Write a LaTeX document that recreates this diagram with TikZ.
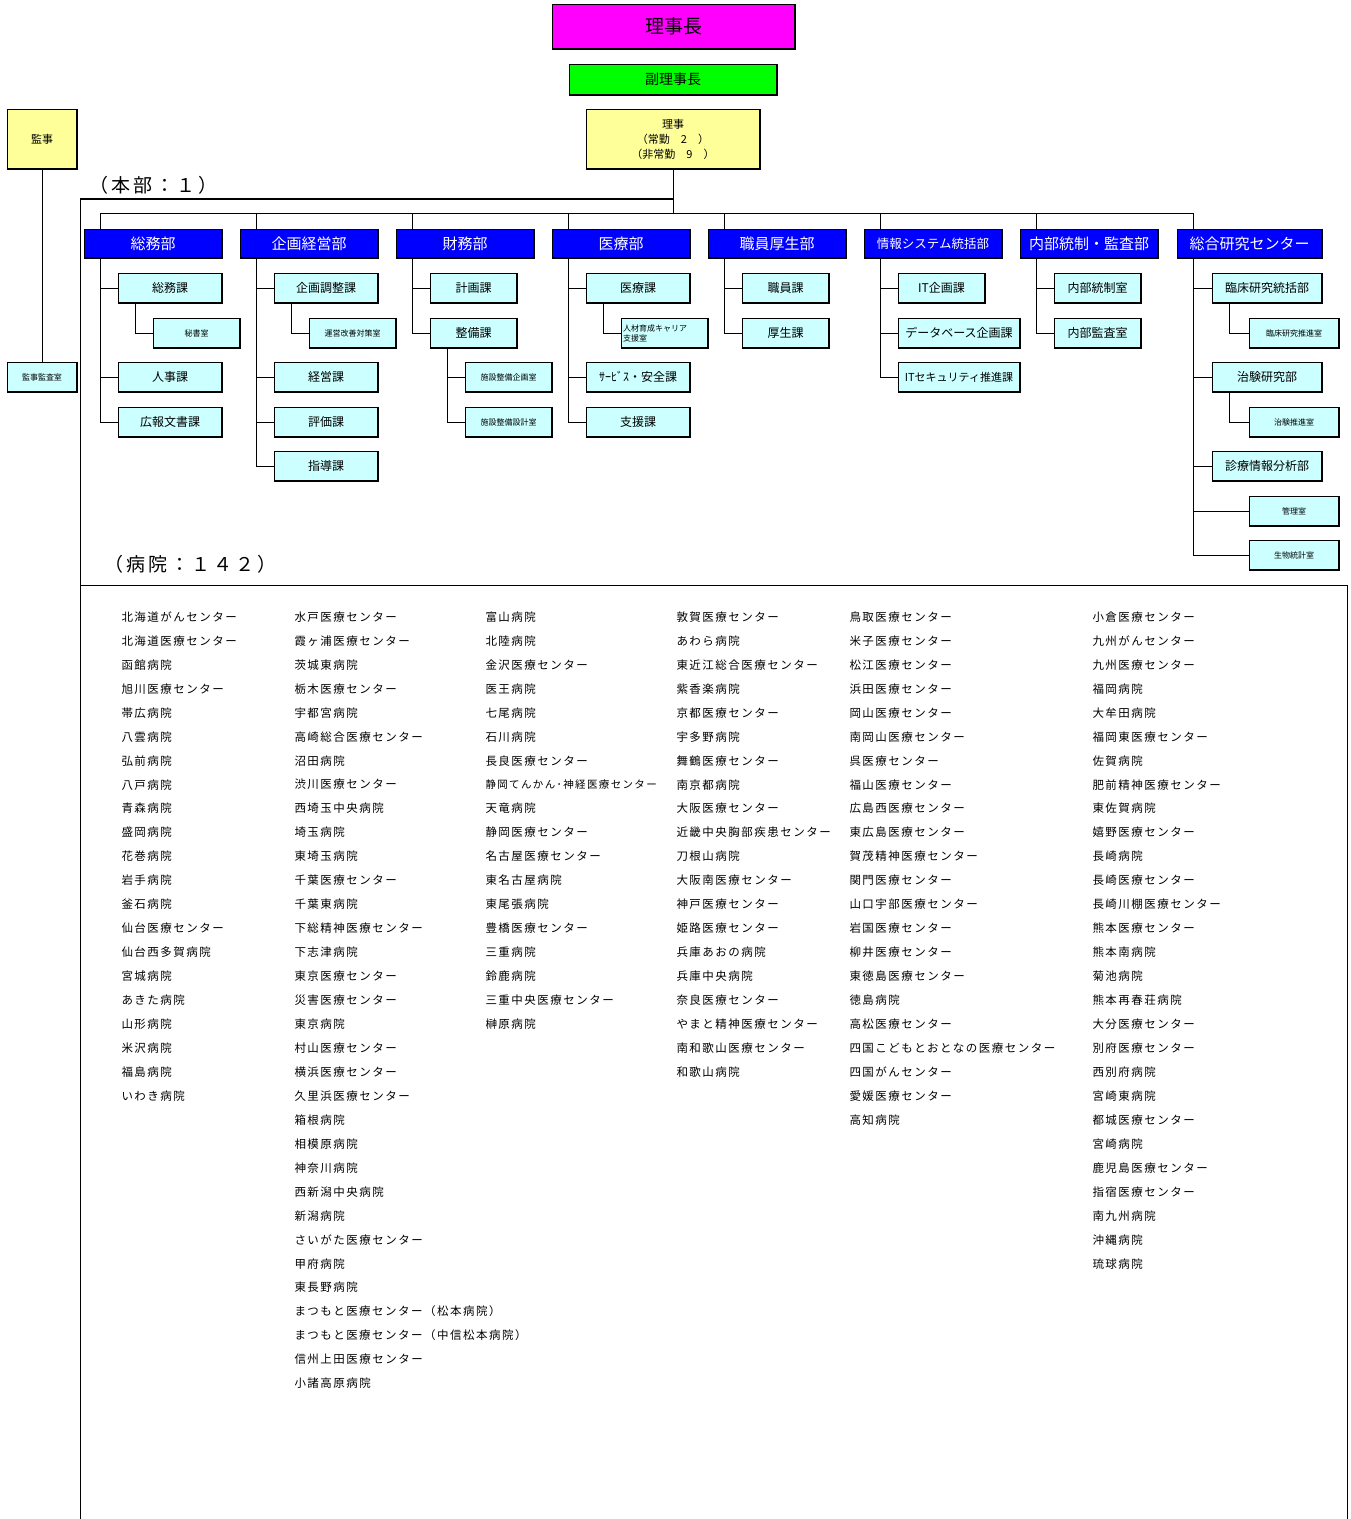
\documentclass[tikz,border=0pt]{standalone}
\usepackage{fontspec}
\setmainfont{Noto Sans CJK JP}
\newfontfamily\spacedjp[LetterSpace=13]{Noto Sans CJK JP}
\newfontfamily\tagjp[LetterSpace=15]{Noto Sans CJK JP}

\definecolor{chairpink}{RGB}{255,0,255}
\definecolor{vicegreen}{RGB}{0,255,0}
\definecolor{boardyellow}{RGB}{255,255,153}
\definecolor{deptblue}{RGB}{0,0,255}
\definecolor{sectcyan}{RGB}{204,255,255}

\begin{document}
\begin{tikzpicture}[
    x=1pt, y=-1pt,
    line width=1pt,
    box/.style={rectangle, draw, inner sep=0pt, align=center, line width=0.8pt,
        path picture={\draw[line width=2.4pt] (path picture bounding box.south west) -- (path picture bounding box.south east) -- (path picture bounding box.north east);}},
    dept/.style={box, fill=deptblue, text=white, minimum width=138pt, minimum height=29pt, font=\fontsize{15}{18}\selectfont},
    sect/.style={box, fill=sectcyan, minimum width=104pt, minimum height=30pt, font=\fontsize{12}{14}\selectfont},
    room/.style={box, fill=sectcyan, minimum width=87pt, minimum height=30pt, font=\fontsize{8}{10}\selectfont},
    hosp/.style={anchor=west, inner sep=0pt, font=\spacedjp\fontsize{11.5}{13}\selectfont},
    tag/.style={anchor=west, inner sep=0pt, font=\tagjp\fontsize{19}{22}\selectfont},
]
\useasboundingbox (0, 0) rectangle (1351, 1519);

% Executives
\node (Chairman) at (673.5, 26.5) [box, fill=chairpink, minimum width=243pt, minimum height=45pt, font=\fontsize{19}{22}\selectfont] {理事長};
\node (ViceChair) at (673, 79.5) [box, fill=vicegreen, minimum width=208pt, minimum height=31pt, font=\fontsize{14}{16}\selectfont] {副理事長};
\node (Directors) at (673, 139) [box, fill=boardyellow, minimum width=174pt, minimum height=60pt, font=\fontsize{11}{15}\selectfont] {理事\\（常勤　2　）\\（非常勤　9　）};
\node (Auditor) at (42, 139) [box, fill=boardyellow, minimum width=70pt, minimum height=60pt, font=\fontsize{11}{13}\selectfont] {監事};
\node (AuditOffice) at (42, 377) [box, fill=sectcyan, minimum width=70pt, minimum height=30pt, font=\fontsize{8}{10}\selectfont] {監事監査室};

\draw (Auditor.south) -- (AuditOffice.north);

% Headquarters frame
\node (HonbuLabel) at (89, 185) [tag] {（本部：１）};
\coordinate (HonbuCorner) at (80, 199);
\draw[line width=1.6pt] (HonbuCorner) -- (HonbuCorner -| Directors.south);
\draw (HonbuCorner) -- (80, 1519);
\draw (Directors.south) -- ++(0, 44);

% Departments
\node (SomuBu) at (153, 243.5) [dept] {総務部};
\node (KikakuBu) at (309, 243.5) [dept] {企画経営部};
\node (ZaimuBu) at (465, 243.5) [dept] {財務部};
\node (IryoBu) at (621, 243.5) [dept] {医療部};
\node (KoseiBu) at (777, 243.5) [dept] {職員厚生部};
\node (JohoBu) at (933, 243.5) [dept, font=\fontsize{12.5}{14}\selectfont] {情報システム統括部};
\node (NaibuBu) at (1089, 243.5) [dept] {内部統制・監査部};
\node (SokenCtr) at (1249.5, 243.5) [dept, minimum width=145pt] {総合研究センター};

\coordinate (BusL) at (101, 213);
\coordinate (BusR) at (1194, 213);
\draw (BusL) -- (BusR);
\foreach \d in {SomuBu, KikakuBu, ZaimuBu, IryoBu, KoseiBu, JohoBu, NaibuBu, SokenCtr}
    \draw ([xshift=17pt]\d.north west) -- ++(0, -16);

% Sections
\node (SomuKa) at (170, 288) [sect] {総務課};
\node (Hisho) at (196.5, 333) [room] {秘書室};
\node (Jinji) at (170, 377) [sect] {人事課};
\node (Koho) at (170, 422) [sect] {広報文書課};

\node (KikakuChosei) at (326, 288) [sect] {企画調整課};
\node (UneiKaizen) at (352.5, 333) [room] {運営改善対策室};
\node (Keiei) at (326, 377) [sect] {経営課};
\node (Hyoka) at (326, 422) [sect] {評価課};
\node (Shido) at (326, 466) [sect] {指導課};

\node (Keikaku) at (473.5, 288) [sect, minimum width=87pt] {計画課};
\node (Seibi) at (473.5, 333) [sect, minimum width=87pt] {整備課};
\node (ShisetsuKikaku) at (508.5, 377) [room] {施設整備企画室};
\node (ShisetsuSekkei) at (508.5, 422) [room] {施設整備設計室};

\node (IryoKa) at (638, 288) [sect] {医療課};
\node (Jinzai) at (664.5, 333) [room, align=left, text width=83pt] {人材育成キャリア\\支援室};
\node (Service) at (638, 377) [sect] {ｻｰﾋﾞｽ・安全課};
\node (Shien) at (638, 422) [sect] {支援課};

\node (Shokuin) at (785.5, 288) [sect, minimum width=87pt] {職員課};
\node (Kosei) at (785.5, 333) [sect, minimum width=87pt] {厚生課};

\node (ITKikaku) at (941.5, 288) [sect, minimum width=87pt] {IT企画課};
\node (Database) at (959, 333) [sect, minimum width=122pt] {データベース企画課};
\node (ITSec) at (959, 377) [sect, minimum width=122pt, font=\fontsize{11}{13}\selectfont] {ITセキュリティ推進課};

\node (NaibuTosei) at (1097.5, 288) [sect, minimum width=87pt] {内部統制室};
\node (NaibuKansa) at (1097.5, 333) [sect, minimum width=87pt] {内部監査室};

\node (Rinsho) at (1267, 288) [sect, minimum width=110pt] {臨床研究統括部};
\node (RinshoSuishin) at (1294, 333) [room, minimum width=90pt] {臨床研究推進室};
\node (Chiken) at (1267, 377) [sect, minimum width=110pt] {治験研究部};
\node (ChikenSuishin) at (1294, 422) [room, minimum width=90pt] {治験推進室};
\node (Shinryo) at (1267, 466) [sect, minimum width=110pt] {診療情報分析部};
\node (Kanri) at (1294, 511) [room, minimum width=90pt] {管理室};
\node (Seibutsu) at (1294, 555) [room, minimum width=90pt] {生物統計室};

\foreach \d/\c in {SomuBu/SomuKa, SomuBu/Jinji, SomuBu/Koho,
        KikakuBu/KikakuChosei, KikakuBu/Keiei, KikakuBu/Hyoka, KikakuBu/Shido,
        ZaimuBu/Keikaku, ZaimuBu/Seibi,
        IryoBu/IryoKa, IryoBu/Service, IryoBu/Shien,
        KoseiBu/Shokuin, KoseiBu/Kosei,
        JohoBu/ITKikaku, JohoBu/Database, JohoBu/ITSec,
        NaibuBu/NaibuTosei, NaibuBu/NaibuKansa,
        SokenCtr/Rinsho, SokenCtr/Chiken, SokenCtr/Shinryo, SokenCtr/Kanri, SokenCtr/Seibutsu}
    \draw ([xshift=17pt]\d.south west) |- (\c.west);

\foreach \p/\c in {SomuKa/Hisho, KikakuChosei/UneiKaizen, Seibi/ShisetsuKikaku, Seibi/ShisetsuSekkei,
        IryoKa/Jinzai, Rinsho/RinshoSuishin, Chiken/ChikenSuishin}
    \draw ([xshift=18pt]\p.south west) |- (\c.west);

% Hospitals
\node (ByoinLabel) at (104, 564) [tag] {（病院：１４２）};
\coordinate (HospFrame) at (80, 585);
\draw (HospFrame) -- (1347, 585) -- (1347, 1519);

\foreach \h [count=\i from 0] in {北海道がんセンター, 北海道医療センター, 函館病院, 旭川医療センター, 帯広病院, 八雲病院, 弘前病院, 八戸病院, 青森病院, 盛岡病院, 花巻病院, 岩手病院, 釜石病院, 仙台医療センター, 仙台西多賀病院, 宮城病院, あきた病院, 山形病院, 米沢病院, 福島病院, いわき病院}
    \node (HospA\i) at (121, {617+23.95*\i}) [hosp] {\h};

\foreach \h [count=\i from 0] in {水戸医療センター, 霞ヶ浦医療センター, 茨城東病院, 栃木医療センター, 宇都宮病院, 高崎総合医療センター, 沼田病院, 渋川医療センター, 西埼玉中央病院, 埼玉病院, 東埼玉病院, 千葉医療センター, 千葉東病院, 下総精神医療センター, 下志津病院, 東京医療センター, 災害医療センター, 東京病院, 村山医療センター, 横浜医療センター, 久里浜医療センター, 箱根病院, 相模原病院, 神奈川病院, 西新潟中央病院, 新潟病院, さいがた医療センター, 甲府病院, 東長野病院, まつもと医療センター（松本病院）, まつもと医療センター（中信松本病院）, 信州上田医療センター, 小諸高原病院}
    \node (HospB\i) at (294, {617+23.95*\i}) [hosp] {\h};

\foreach \h [count=\i from 0] in {富山病院, 北陸病院, 金沢医療センター, 医王病院, 七尾病院, 石川病院, 長良医療センター, {\fontsize{10.5}{12}\selectfont 静岡てんかん･神経医療センター}, 天竜病院, 静岡医療センター, 名古屋医療センター, 東名古屋病院, 東尾張病院, 豊橋医療センター, 三重病院, 鈴鹿病院, 三重中央医療センター, 榊原病院}
    \node (HospC\i) at (485, {617+23.95*\i}) [hosp] {\h};

\foreach \h [count=\i from 0] in {敦賀医療センター, あわら病院, 東近江総合医療センター, 紫香楽病院, 京都医療センター, 宇多野病院, 舞鶴医療センター, 南京都病院, 大阪医療センター, 近畿中央胸部疾患センター, 刀根山病院, 大阪南医療センター, 神戸医療センター, 姫路医療センター, 兵庫あおの病院, 兵庫中央病院, 奈良医療センター, やまと精神医療センター, 南和歌山医療センター, 和歌山病院}
    \node (HospD\i) at (676, {617+23.95*\i}) [hosp] {\h};

\foreach \h [count=\i from 0] in {鳥取医療センター, 米子医療センター, 松江医療センター, 浜田医療センター, 岡山医療センター, 南岡山医療センター, 呉医療センター, 福山医療センター, 広島西医療センター, 東広島医療センター, 賀茂精神医療センター, 関門医療センター, 山口宇部医療センター, 岩国医療センター, 柳井医療センター, 東徳島医療センター, 徳島病院, 高松医療センター, 四国こどもとおとなの医療センター, 四国がんセンター, 愛媛医療センター, 高知病院}
    \node (HospE\i) at (849, {617+23.95*\i}) [hosp] {\h};

\foreach \h [count=\i from 0] in {小倉医療センター, 九州がんセンター, 九州医療センター, 福岡病院, 大牟田病院, 福岡東医療センター, 佐賀病院, 肥前精神医療センター, 東佐賀病院, 嬉野医療センター, 長崎病院, 長崎医療センター, 長崎川棚医療センター, 熊本医療センター, 熊本南病院, 菊池病院, 熊本再春荘病院, 大分医療センター, 別府医療センター, 西別府病院, 宮崎東病院, 都城医療センター, 宮崎病院, 鹿児島医療センター, 指宿医療センター, 南九州病院, 沖縄病院, 琉球病院}
    \node (HospF\i) at (1092, {617+23.95*\i}) [hosp] {\h};

\end{tikzpicture}
\end{document}
